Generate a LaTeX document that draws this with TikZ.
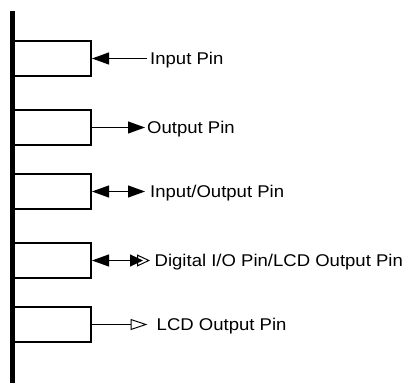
\documentclass[tikz,border=0pt]{standalone}
\usepackage{fontspec}
\setmainfont{Liberation Sans}
\usepackage{graphicx}
\usetikzlibrary{arrows.meta}

\tikzset{
  pinbox/.style={draw, line width=2pt, minimum width=78.5pt, minimum height=35pt,
    inner sep=0pt, outer sep=1pt},
  pinlabel/.style={anchor=base west, inner ysep=0pt, inner xsep=#1,
    font=\fontsize{17}{20}\selectfont},
  conn/.style={line width=1pt},
  tipin/.tip={Triangle[length=17pt,width=12pt]},
  tipout/.tip={Triangle[length=17pt,width=12pt]},
  tiplcd/.tip={Triangle[open,length=17pt,width=11pt]},
  tipdual/.tip={Triangle[length=13pt,width=12pt,sep=-6pt] Triangle[open,length=13pt,width=12pt]},
}
\newcommand{\pintext}[1]{\scalebox{1.09}[1]{#1}}

\begin{document}
\begin{tikzpicture}[x=1pt,y=-1pt]
  \useasboundingbox (0,0) rectangle (408,383);

  % common bus on the left
  \draw[line width=5pt] (12.5,11) -- (12.5,383);

  % pin cells
  \node[pinbox] (b1) at (51.75,58.5)  {};
  \node[pinbox] (b2) at (51.75,127.5) {};
  \node[pinbox] (b3) at (51.75,191.5) {};
  \node[pinbox] (b4) at (51.75,260.5) {};
  \node[pinbox] (b5) at (51.75,324.5) {};

  % pin type labels
  \node[pinlabel=3pt] (l1) at (147,64.5)  {\pintext{Input Pin}};
  \node[pinlabel=2pt] (l2) at (145,133.5) {\pintext{Output Pin}};
  \node[pinlabel=5pt] (l3) at (145,197.5) {\pintext{Input/Output Pin}};
  \node[pinlabel=4.5pt] (l4) at (150,266.5) {\pintext{Digital I/O Pin/LCD Output Pin}};
  \node[pinlabel=9pt] (l5) at (147.5,330.5) {\pintext{LCD Output Pin}};

  % signal directions
  \draw[conn, tipin-] (b1.east) -- (b1.east -| l1.west);
  \draw[conn, -tipout] (b2.east) -- (b2.east -| l2.west);
  \draw[conn, tipin-tipout] (b3.east) -- (b3.east -| l3.west);
  \draw[conn, tipin-tipdual] (b4.east) -- (b4.east -| l4.west);
  \draw[conn, -tiplcd] (b5.east) -- (b5.east -| l5.west);
\end{tikzpicture}
\end{document}
